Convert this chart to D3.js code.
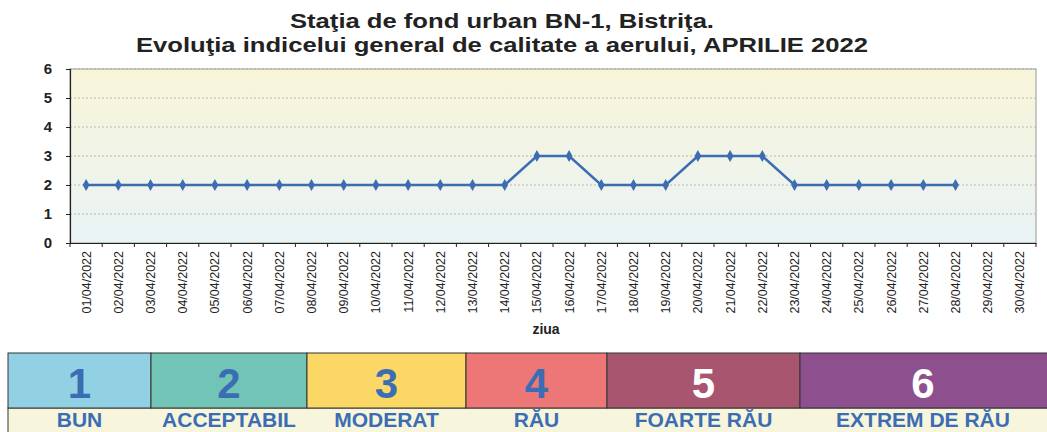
<!DOCTYPE html>
<html><head><meta charset="utf-8">
<script src="https://cdn.jsdelivr.net/npm/d3@7"></script>
<style>body{margin:0;background:#fff;}svg{display:block;}</style>
</head><body>
<svg id="c" width="1047" height="432"></svg>
<script>
const days = ["01/04/2022","02/04/2022","03/04/2022","04/04/2022","05/04/2022","06/04/2022","07/04/2022","08/04/2022","09/04/2022","10/04/2022","11/04/2022","12/04/2022","13/04/2022","14/04/2022","15/04/2022","16/04/2022","17/04/2022","18/04/2022","19/04/2022","20/04/2022","21/04/2022","22/04/2022","23/04/2022","24/04/2022","25/04/2022","26/04/2022","27/04/2022","28/04/2022","29/04/2022","30/04/2022"];
const indexValues = [2,2,2,2,2,2,2,2,2,2,2,2,2,2,3,3,2,2,2,3,3,3,2,2,2,2,2,2,null,null];
const yTicks = [0,1,2,3,4,5,6];
const legendNumbers = ["1","2","3","4","5","6"];
const legendLabels = ["BUN","ACCEPTABIL","MODERAT","RĂU","FOARTE RĂU","EXTREM DE RĂU"];
const legendColors = ["#92d0e3","#72c5b6","#fbd866","#ec7776","#a8566f","#8e4f8e"];
const legendNumColors = ["#3b6db4","#3b6db4","#3b6db4","#3b6db4","#ffffff","#ffffff"];
const legendEdges = [8,151,307,466,607,800,1060];
const titleLines = ["Staţia de fond urban BN-1, Bistriţa.","Evoluţia indicelui general de calitate a aerului, APRILIE 2022"];

const svg = d3.select("#c");
const font = "Liberation Sans, Arial, sans-serif";
const m = {l:70, r:1036, t:69, b:243};

const defs = svg.append("defs");
const g = defs.append("linearGradient").attr("id","bg").attr("x1",0).attr("x2",0).attr("y1",0).attr("y2",1);
g.append("stop").attr("offset","0%").attr("stop-color","#f8f5d8");
g.append("stop").attr("offset","100%").attr("stop-color","#e9f3f6");

const titleWidths = [424, 732];
svg.selectAll("text.title").data(titleLines).enter().append("text")
  .attr("x",502).attr("y",(d,i)=>28+i*24).attr("text-anchor","middle")
  .attr("font-family",font).attr("font-weight","bold").attr("font-size",20).attr("fill","#222")
  .attr("textLength",(d,i)=>titleWidths[i]).attr("lengthAdjust","spacingAndGlyphs")
  .text(d=>d);

const x = d3.scaleBand().domain(days).range([m.l,m.r]);
const y = d3.scaleLinear().domain([0,6]).range([m.b,m.t]);

svg.append("rect").attr("x",m.l).attr("y",m.t).attr("width",m.r-m.l).attr("height",m.b-m.t)
  .attr("fill","url(#bg)").attr("stroke","#999").attr("stroke-width",1);

svg.append("g").selectAll("line").data(yTicks.slice(1)).enter().append("line")
  .attr("x1",m.l).attr("x2",m.r).attr("y1",d=>y(d)).attr("y2",d=>y(d))
  .attr("stroke","#aaa").attr("stroke-width",0.8).attr("stroke-dasharray","2,2");

const ya = svg.append("g").attr("transform",`translate(${m.l},0)`)
  .call(d3.axisLeft(y).tickValues(yTicks).tickSize(4).tickFormat(d3.format("d")));
ya.select(".domain").attr("stroke","#222").attr("stroke-width",1.2);
ya.selectAll("line").attr("stroke","#222");
ya.selectAll("text").attr("font-family",font).attr("font-weight","bold").attr("font-size",15).attr("fill","#222").attr("dx",-11);

const xa = svg.append("g").attr("transform",`translate(0,${m.b})`)
  .call(d3.axisBottom(x).tickSize(0));
xa.select(".domain").attr("stroke","#222").attr("stroke-width",1.2);
xa.selectAll("text").attr("font-family",font).attr("font-size",12.5).attr("fill","#222")
  .attr("transform","rotate(-90)").attr("text-anchor","end").attr("dx",-8).attr("dy",4.5).attr("y",0).attr("x",0);
svg.append("g").selectAll("line").data(days.concat(["end"])).enter().append("line")
  .attr("x1",(d,i)=>m.l+i*x.step()).attr("x2",(d,i)=>m.l+i*x.step())
  .attr("y1",m.b).attr("y2",m.b+4).attr("stroke","#222");

svg.append("text").attr("x",546).attr("y",334).attr("text-anchor","middle")
  .attr("font-family",font).attr("font-weight","bold").attr("font-size",14).attr("fill","#222").text("ziua");

const pts = days.map((d,i)=>({d, v:indexValues[i]}));
const line = d3.line().defined(p=>p.v!=null).x(p=>x(p.d)+x.bandwidth()/2).y(p=>y(p.v));
svg.append("path").datum(pts).attr("d",line).attr("fill","none").attr("stroke","#3c6db3").attr("stroke-width",2.5);
svg.append("g").selectAll("path").data(pts.filter(p=>p.v!=null)).enter().append("path")
  .attr("d",d3.symbol(d3.symbolDiamond,40)).attr("fill","#3c6db3")
  .attr("transform",p=>`translate(${x(p.d)+x.bandwidth()/2},${y(p.v)})`);

const lg = svg.append("g");
const legTop = 353, legMid = 408;
lg.append("rect").attr("x",8).attr("y",legMid).attr("width",1060).attr("height",40).attr("fill","#f7f5dc").attr("stroke","#333");
legendNumbers.forEach((n,i)=>{
  const x0 = legendEdges[i], x1 = legendEdges[i+1];
  lg.append("rect").attr("x",x0).attr("y",legTop).attr("width",x1-x0).attr("height",legMid-legTop)
    .attr("fill",legendColors[i]).attr("stroke","#333").attr("stroke-width",1);
  const cx = i===5 ? 923 : (x0+x1)/2;
  lg.append("text").attr("x",cx).attr("y",398).attr("text-anchor","middle")
    .attr("font-family",font).attr("font-weight","bold").attr("font-size",42).attr("fill",legendNumColors[i]).text(n);
  lg.append("text").attr("x",cx).attr("y",427).attr("text-anchor","middle")
    .attr("font-family",font).attr("font-weight","bold").attr("font-size",21).attr("fill","#3b6db4").text(legendLabels[i]);
});
</script>
</body></html>
